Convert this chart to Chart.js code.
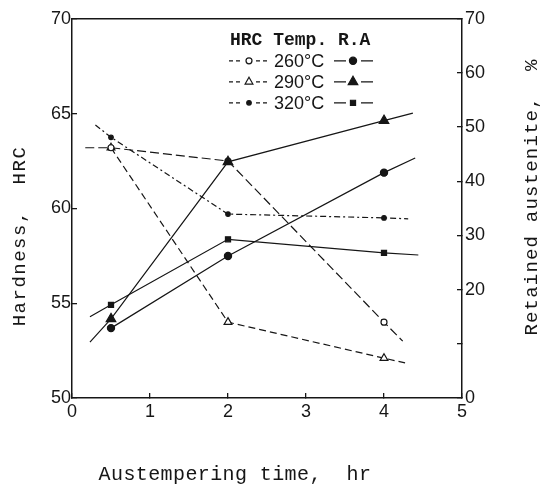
<!DOCTYPE html>
<html>
<head>
<meta charset="utf-8">
<script src="https://cdn.jsdelivr.net/npm/chart.js@4/dist/chart.umd.min.js"></script>
<style>
  html, body { margin: 0; padding: 0; background: #fff; }
  #wrap { width: 550px; height: 485px; }
</style>
</head>
<body>
<div id="wrap"><canvas id="chart"></canvas></div>
<script>
// Austempering time (hr) of the measured samples
const hours = [0.5, 2, 4];
const temps = ['260°C', '290°C', '320°C'];

// Hardness, HRC (left axis)
const hrc260 = [63.2, 62.5, 54.0];
const hrc290 = [63.2, 54.0, 52.1];
const hrc320 = [63.75, 59.7, 59.5];

// Retained austenite, % (right axis)
const ra260 = [12.9, 26.2, 41.6];
const ra290 = [14.6, 43.6, 51.2];
const ra320 = [17.2, 29.3, 26.8];

// the trend lines run a bit past the measured points: [start, end] as [hr, value]
const hrc260Ends = [[0.17, 63.2], [4.24, 53.0]];
const hrc290Ends = [null, [4.27, 51.85]];
const hrc320Ends = [[0.3, 64.4], [4.31, 59.45]];
const ra260Ends = [null, [4.4, 44.3]];
const ra290Ends = [[0.23, 10.3], [4.37, 52.6]];
const ra320Ends = [[0.23, 15.0], [4.44, 26.4]];

// right axis: the 10 % tick has no label
const raLabelled = [0, 20, 30, 40, 50, 60, 70];

const INK = '#161616';

function series(values, ends) {
    const pts = hours.map((h, i) => ({ x: h, y: values[i], measured: true }));
    if (ends[0]) pts.unshift({ x: ends[0][0], y: ends[0][1] });
    if (ends[1]) pts.push({ x: ends[1][0], y: ends[1][1] });
    return pts;
}

function line(label, data, axis, style) {
    return {
        label: label,
        data: data,
        yAxisID: axis,
        borderColor: INK,
        borderWidth: 1.2,
        borderDash: style.dash || [],
        pointStyle: style.point,
        pointRadius: ctx => (ctx.raw && ctx.raw.measured ? style.radius : 0),
        pointBackgroundColor: style.open ? '#fff' : INK,
        pointBorderColor: INK,
        pointBorderWidth: 1.2,
        tension: 0,
        order: axis === 'yRA' ? 1 : 2
    };
}

const hrcStyles = [
    { point: 'circle', radius: 3, open: true, dash: [9, 4] },
    { point: 'triangle', radius: 4.5, open: true, dash: [7, 4] },
    { point: 'circle', radius: 2.3, open: false, dash: [6, 3, 2, 3] }
];
const raStyles = [
    { point: 'circle', radius: 3.6, open: false },
    { point: 'triangle', radius: 5.5, open: false },
    { point: 'rect', radius: 3.6, open: false }
];

const datasets = [
    line('R.A 260°C', series(ra260, ra260Ends), 'yRA', raStyles[0]),
    line('R.A 290°C', series(ra290, ra290Ends), 'yRA', raStyles[1]),
    line('R.A 320°C', series(ra320, ra320Ends), 'yRA', raStyles[2]),
    line('HRC 260°C', series(hrc260, hrc260Ends), 'yHRC', hrcStyles[0]),
    line('HRC 290°C', series(hrc290, hrc290Ends), 'yHRC', hrcStyles[1]),
    line('HRC 320°C', series(hrc320, hrc320Ends), 'yHRC', hrcStyles[2])
];

function spacedText(ctx, text, x, y, spacing) {
    if ('letterSpacing' in ctx) {
        ctx.letterSpacing = spacing + 'px';
        ctx.fillText(text, x, y);
        ctx.letterSpacing = '0px';
    } else {
        ctx.fillText(text, x, y);
    }
}

function marker(ctx, style, x, y) {
    ctx.setLineDash([]);
    ctx.fillStyle = style.open ? '#fff' : INK;
    ctx.strokeStyle = INK;
    ctx.lineWidth = 1.2;
    Chart.helpers.drawPoint(ctx, { pointStyle: style.point, radius: style.radius, rotation: 0, borderWidth: 1.2 }, x, y);
}

// frame top, axis titles and the three-column key
const figureText = {
    id: 'figureText',
    afterDraw(chart) {
        const { ctx, chartArea: a } = chart;
        ctx.save();

        ctx.strokeStyle = INK;
        ctx.lineWidth = 1.5;
        ctx.beginPath();
        ctx.moveTo(a.left, a.top);
        ctx.lineTo(a.right, a.top);
        ctx.stroke();

        ctx.fillStyle = INK;
        ctx.textAlign = 'center';
        ctx.textBaseline = 'middle';
        ctx.font = '20px "Liberation Mono"';
        spacedText(ctx, 'Austempering time,  hr', 235, 475, 0.4);

        ctx.save();
        ctx.translate(20, 236);
        ctx.rotate(-Math.PI / 2);
        ctx.font = '19px "Liberation Mono"';
        spacedText(ctx, 'Hardness,  HRC', 0, 0, 1.5);
        ctx.restore();

        ctx.save();
        ctx.translate(532, 197);
        ctx.rotate(-Math.PI / 2);
        ctx.font = '19px "Liberation Mono"';
        spacedText(ctx, 'Retained austenite,  %', 0, 0, 1.2);
        ctx.restore();

        // key
        const kx = a.left + 158;
        const ky = a.top + 22;
        ctx.textAlign = 'left';
        ctx.font = 'bold 18px "Liberation Mono"';
        spacedText(ctx, 'HRC Temp. R.A', kx, ky, 0);

        temps.forEach((t, i) => {
            const y = ky + 20 + i * 21;
            // HRC sample: dashed with open marker
            ctx.strokeStyle = INK;
            ctx.lineWidth = 1.2;
            ctx.setLineDash([4, 3]);
            ctx.beginPath();
            ctx.moveTo(kx - 1, y); ctx.lineTo(kx + 13, y);
            ctx.moveTo(kx + 26, y); ctx.lineTo(kx + 40, y);
            ctx.stroke();
            marker(ctx, hrcStyles[i], kx + 19, y);

            ctx.fillStyle = INK;
            ctx.font = '18px "Liberation Sans"';
            ctx.fillText(t, kx + 44, y + 1);

            // R.A sample: solid with filled marker
            ctx.setLineDash([]);
            ctx.beginPath();
            ctx.moveTo(kx + 104, y); ctx.lineTo(kx + 116, y);
            ctx.moveTo(kx + 131, y); ctx.lineTo(kx + 143, y);
            ctx.stroke();
            marker(ctx, raStyles[i], kx + 123, y);
        });

        ctx.restore();
    }
};

const tickFont = { family: '"Liberation Sans", Arial, sans-serif', size: 18 };
const inwardTicks = { drawOnChartArea: false, drawTicks: true, tickLength: -5, color: INK, lineWidth: 1.3 };

new Chart(document.getElementById('chart'), {
    type: 'line',
    data: { datasets: datasets },
    options: {
        responsive: true,
        maintainAspectRatio: false,
        animation: false,
        events: [],
        layout: { padding: { top: 10, left: 0, right: 0, bottom: 0 } },
        plugins: {
            legend: { display: false },
            tooltip: { enabled: false }
        },
        scales: {
            x: {
                type: 'linear',
                min: 0,
                max: 5,
                ticks: { stepSize: 1, color: INK, font: tickFont, padding: 8 },
                grid: inwardTicks,
                border: { display: true, color: INK, width: 1.5 },
                afterFit: s => { s.height = 87; }
            },
            yHRC: {
                position: 'left',
                min: 50,
                max: 70,
                ticks: { stepSize: 5, color: INK, font: tickFont, padding: 6 },
                grid: inwardTicks,
                border: { display: true, color: INK, width: 1.5 },
                afterFit: s => { s.width = 72; }
            },
            yRA: {
                position: 'right',
                min: 0,
                max: 70,
                ticks: {
                    stepSize: 10,
                    color: INK,
                    font: tickFont,
                    padding: 8,
                    callback: v => (raLabelled.includes(v) ? v : '')
                },
                grid: inwardTicks,
                border: { display: true, color: INK, width: 1.5 },
                afterFit: s => { s.width = 88; }
            }
        }
    },
    plugins: [figureText]
});
</script>
</body>
</html>
